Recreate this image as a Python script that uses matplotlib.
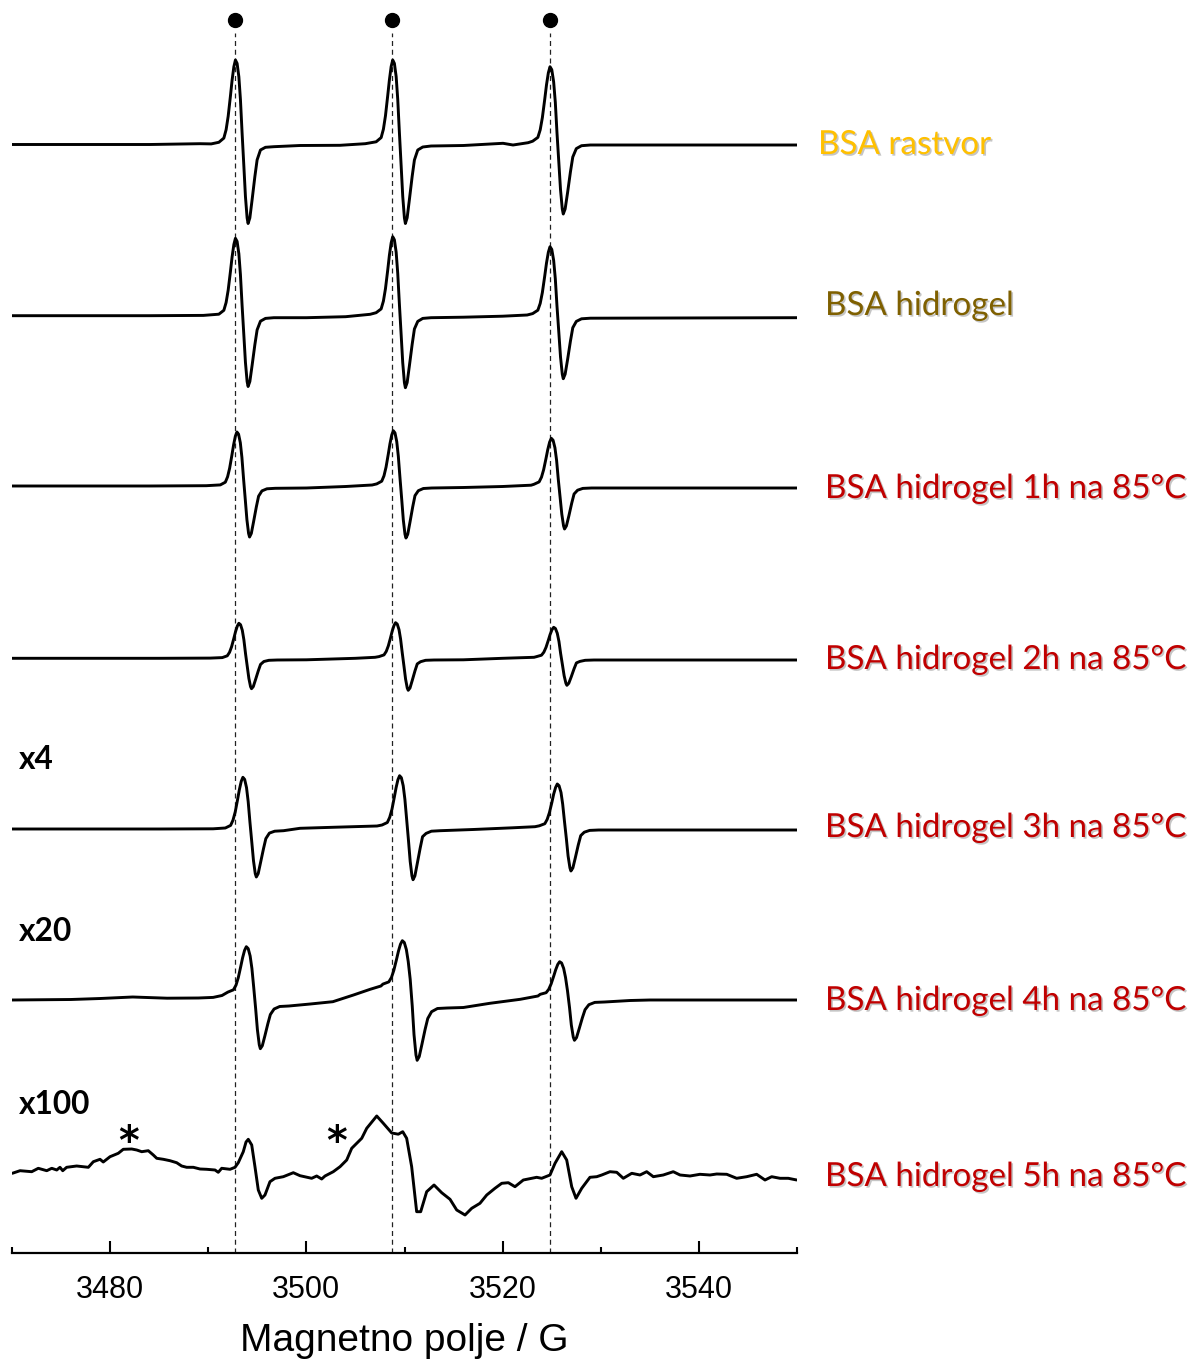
import matplotlib
matplotlib.use("Agg")
import matplotlib.pyplot as plt
import matplotlib.patheffects as pe
from matplotlib.ticker import FixedLocator

# ---------------- data (field in G, intensity in arbitrary units) ----------------
trace_rastvor = [
    (3470.00, 0.0), (3484.06, 0.0), (3489.16, 0.8), (3490.30, 0.6),
    (3491.08, 2.2), (3491.59, 6.4), (3491.82, 14.8), (3492.03, 28.2), (3492.26, 48.4), (3492.43, 64.3),
    (3492.61, 77.8), (3492.77, 84.5), (3492.94, 81.1), (3493.12, 67.7), (3493.28, 45.0), (3493.45, 11.4),
    (3493.63, -21.8), (3493.79, -52.0), (3493.96, -73.4), (3494.06, -79.0), (3494.24, -73.4), (3494.47, -55.2),
    (3494.75, -32.1), (3494.98, -15.4), (3495.32, -5.5), (3495.83, -2.8), (3496.68, -2.2),
    (3499.35, -1.0), (3503.43, -0.8), (3506.00, 0.8),
    (3507.11, 2.7), (3507.62, 6.9), (3507.85, 15.3), (3508.06, 28.7), (3508.29, 48.9), (3508.46, 64.5),
    (3508.64, 78.0), (3508.80, 84.5), (3508.97, 81.1), (3509.15, 67.9), (3509.31, 45.3), (3509.48, 11.9),
    (3509.66, -21.5), (3509.82, -51.8), (3509.99, -73.3), (3510.09, -79.0), (3510.27, -73.3), (3510.50, -55.0),
    (3510.78, -32.0), (3511.01, -15.5), (3511.35, -5.5), (3511.86, -2.5), (3512.71, -1.5),
    (3516.00, -1.0), (3520.04, 1.2), (3521.06, -0.5), (3522.60, 1.8),
    (3523.06, 3.3), (3523.59, 7.1), (3523.83, 14.7), (3524.05, 26.9), (3524.29, 45.1), (3524.47, 59.6),
    (3524.66, 71.7), (3524.83, 77.8), (3525.01, 74.8), (3525.20, 62.6), (3525.37, 42.1), (3525.54, 11.7),
    (3525.73, -18.2), (3525.90, -45.3), (3526.08, -64.5), (3526.18, -69.5), (3526.37, -64.5), (3526.62, -48.1),
    (3526.91, -27.4), (3527.15, -12.5), (3527.51, -4.1), (3528.04, -1.2), (3528.94, -0.5),
    (3535.00, -0.5), (3550.00, -0.5),
]
trace_hidrogel = [
    (3470.0, 0.0), (3484.0, 0.0), (3489.5, 0.3),
    (3491.08, 1.5), (3491.59, 5.4), (3491.82, 13.2), (3492.03, 25.5), (3492.26, 44.1), (3492.43, 58.8),
    (3492.61, 71.2), (3492.77, 77.4), (3492.94, 74.3), (3493.12, 61.9), (3493.28, 41.0), (3493.45, 10.1),
    (3493.63, -19.8), (3493.79, -46.7), (3493.96, -65.8), (3494.06, -70.8), (3494.24, -65.8), (3494.47, -49.6),
    (3494.75, -29.0), (3494.98, -14.2), (3495.32, -5.5), (3495.83, -2.7), (3496.68, -2.0),
    (3500.0, -2.0), (3504.0, -1.0), (3506.5, 1.4),
    (3507.11, 3.0), (3507.62, 6.8), (3507.85, 14.6), (3508.06, 27.0), (3508.29, 45.6), (3508.46, 60.4),
    (3508.64, 72.8), (3508.80, 79.0), (3508.97, 75.9), (3509.15, 63.5), (3509.31, 42.5), (3509.48, 11.5),
    (3509.66, -19.2), (3509.82, -47.0), (3509.99, -66.9), (3510.09, -72.0), (3510.27, -66.9), (3510.50, -50.0),
    (3510.78, -28.7), (3511.01, -13.3), (3511.35, -5.7), (3511.86, -2.7), (3512.71, -2.0),
    (3516.0, -1.5), (3520.0, -0.5), (3522.5, 0.7),
    (3523.06, 2.1), (3523.59, 5.5), (3523.83, 12.3), (3524.05, 23.2), (3524.29, 39.6), (3524.47, 52.6),
    (3524.66, 63.5), (3524.83, 69.0), (3525.01, 66.3), (3525.20, 55.3), (3525.37, 36.9), (3525.54, 9.6),
    (3525.73, -17.1), (3525.90, -41.3), (3526.08, -58.5), (3526.18, -63.0), (3526.37, -58.5), (3526.62, -43.9),
    (3526.91, -25.4), (3527.15, -12.0), (3527.51, -5.7), (3528.04, -3.1), (3528.94, -2.5),
    (3550.0, -2.0),
]
trace_1h = [
    (3470.0, 0.0), (3484.0, 0.0), (3489.8, 0.3),
    (3491.23, 1.1), (3491.74, 3.8), (3491.97, 9.2), (3492.18, 17.8), (3492.41, 30.8), (3492.58, 41.0),
    (3492.76, 49.7), (3492.92, 54.0), (3493.09, 51.8), (3493.27, 43.2), (3493.43, 28.6), (3493.60, 7.0),
    (3493.78, -14.3), (3493.94, -33.7), (3494.11, -47.4), (3494.21, -51.0), (3494.39, -47.4), (3494.62, -35.7),
    (3494.90, -20.9), (3495.13, -10.2), (3495.47, -4.9), (3495.98, -2.8), (3496.83, -2.3),
    (3500.0, -2.0), (3504.0, -0.5), (3506.7, 1.0),
    (3507.17, 2.1), (3507.68, 4.8), (3507.91, 10.2), (3508.12, 18.9), (3508.35, 32.0), (3508.52, 42.3),
    (3508.70, 51.0), (3508.86, 55.3), (3509.03, 53.1), (3509.21, 44.4), (3509.37, 29.8), (3509.54, 8.1),
    (3509.72, -13.8), (3509.88, -34.0), (3510.05, -48.3), (3510.15, -52.0), (3510.33, -48.3), (3510.56, -36.1),
    (3510.84, -20.7), (3511.07, -9.6), (3511.41, -4.7), (3511.92, -2.5), (3512.77, -2.0),
    (3516.0, -1.5), (3520.0, -0.5), (3522.9, 0.8),
    (3523.19, 1.7), (3523.72, 4.1), (3523.96, 8.8), (3524.18, 16.3), (3524.42, 27.5), (3524.60, 36.4),
    (3524.79, 43.9), (3524.96, 47.7), (3525.14, 45.8), (3525.33, 38.3), (3525.50, 25.7), (3525.67, 6.9),
    (3525.86, -11.5), (3526.03, -28.1), (3526.21, -39.9), (3526.31, -43.0), (3526.50, -39.9), (3526.75, -29.9),
    (3527.04, -17.2), (3527.28, -8.0), (3527.64, -4.2), (3528.17, -2.4), (3529.07, -2.0),
    (3550.0, -2.0),
]
trace_2h = [
    (3470.0, 0.0), (3485.0, 0.0), (3490.2, 0.2),
    (3491.43, 0.7), (3491.94, 2.5), (3492.17, 6.0), (3492.38, 11.6), (3492.61, 20.0), (3492.78, 26.6),
    (3492.96, 32.2), (3493.12, 35.0), (3493.29, 33.6), (3493.47, 28.0), (3493.63, 18.6), (3493.80, 4.6),
    (3493.98, -8.5), (3494.14, -20.1), (3494.31, -28.3), (3494.41, -30.4), (3494.59, -28.3), (3494.82, -21.3),
    (3495.10, -12.5), (3495.33, -6.1), (3495.67, -3.2), (3496.18, -2.0), (3497.03, -1.7),
    (3500.0, -1.5), (3505.0, 0.0), (3507.0, 1.0),
    (3507.40, 1.7), (3507.91, 3.4), (3508.14, 6.9), (3508.35, 12.4), (3508.58, 20.7), (3508.75, 27.3),
    (3508.93, 32.8), (3509.09, 35.6), (3509.26, 34.2), (3509.44, 28.7), (3509.60, 19.3), (3509.77, 5.5),
    (3509.95, -8.2), (3510.11, -20.8), (3510.28, -29.7), (3510.38, -32.0), (3510.56, -29.7), (3510.79, -22.1),
    (3511.07, -12.5), (3511.30, -5.6), (3511.64, -3.4), (3512.15, -2.0), (3513.00, -1.7),
    (3516.0, -1.5), (3520.0, 0.0), (3523.2, 1.0),
    (3523.43, 1.6), (3523.96, 3.1), (3524.20, 6.1), (3524.42, 10.9), (3524.66, 18.1), (3524.84, 23.8),
    (3525.03, 28.6), (3525.20, 31.0), (3525.38, 29.8), (3525.57, 25.0), (3525.74, 16.9), (3525.91, 4.9),
    (3526.10, -6.8), (3526.27, -17.5), (3526.45, -25.0), (3526.55, -27.0), (3526.74, -25.0), (3526.99, -18.6),
    (3527.28, -10.5), (3527.52, -4.6), (3527.88, -3.1), (3528.41, -2.0), (3529.31, -1.7),
    (3550.0, -1.7),
]
trace_3h = [
    (3470.0, 0.0), (3485.0, 0.0), (3490.5, 0.2),
    (3491.74, 1.0), (3492.28, 3.6), (3492.52, 8.8), (3492.75, 17.1), (3492.99, 29.5), (3493.17, 39.3),
    (3493.36, 47.6), (3493.53, 51.7), (3493.71, 49.6), (3493.90, 41.4), (3494.07, 27.4), (3494.25, 6.7),
    (3494.44, -13.4), (3494.61, -31.7), (3494.79, -44.6), (3494.90, -48.0), (3495.09, -44.6), (3495.33, -33.6),
    (3495.63, -19.7), (3495.87, -9.6), (3496.23, -4.1), (3496.77, -2.2), (3497.67, -1.7),
    (3499.35, 0.7), (3503.0, 1.8), (3507.2, 3.0),
    (3507.71, 4.0), (3508.25, 6.5), (3508.49, 11.6), (3508.72, 19.6), (3508.96, 31.7), (3509.14, 41.2),
    (3509.33, 49.3), (3509.50, 53.3), (3509.68, 51.3), (3509.87, 43.2), (3510.04, 29.7), (3510.22, 9.5),
    (3510.41, -12.0), (3510.58, -32.4), (3510.76, -46.9), (3510.87, -50.7), (3511.06, -46.9), (3511.30, -34.6),
    (3511.60, -19.0), (3511.84, -7.7), (3512.20, -4.4), (3512.74, -2.2), (3513.64, -1.7),
    (3517.0, -0.5), (3521.0, 1.2), (3523.3, 2.3),
    (3523.74, 3.2), (3524.30, 5.3), (3524.54, 9.6), (3524.77, 16.4), (3525.02, 26.6), (3525.20, 34.8),
    (3525.40, 41.6), (3525.57, 45.0), (3525.75, 43.3), (3525.95, 36.5), (3526.12, 24.9), (3526.30, 7.9),
    (3526.50, -10.1), (3526.67, -26.9), (3526.86, -38.9), (3526.96, -42.0), (3527.16, -38.9), (3527.41, -28.7),
    (3527.71, -15.9), (3527.96, -6.6), (3528.32, -3.2), (3528.87, -1.4), (3529.79, -1.0),
    (3550.0, -1.0),
]
trace_4h = [
    (3470.0, 0.0), (3476.0, 0.5), (3479.0, 1.5), (3482.3, 3.0), (3485.8, 1.8), (3489.0, 2.0), (3490.5, 2.6),
    (3491.4, 4.5),
    (3492.00, 7.9), (3492.57, 10.2), (3492.83, 14.9), (3493.06, 22.3), (3493.31, 33.4), (3493.50, 42.2),
    (3493.70, 49.6), (3493.88, 53.3), (3494.07, 51.4), (3494.27, 44.0), (3494.45, 31.5), (3494.63, 13.0),
    (3494.83, -8.6), (3495.01, -29.8), (3495.20, -44.8), (3495.31, -48.7), (3495.51, -45.7), (3495.77, -35.9),
    (3496.08, -23.5), (3496.33, -14.5), (3496.71, -9.0), (3497.28, -6.5), (3498.22, -6.0),
    (3500.4, -4.0), (3502.7, -1.7), (3504.8, 5.0), (3506.5, 10.7), (3507.6, 14.0),
    (3507.80, 15.9), (3508.40, 18.1), (3508.67, 22.5), (3508.91, 29.6), (3509.18, 40.3), (3509.38, 48.7),
    (3509.59, 55.8), (3509.78, 59.3), (3509.98, 57.5), (3510.19, 50.4), (3510.38, 38.5), (3510.58, 20.8),
    (3510.79, -6.1), (3510.97, -34.7), (3511.17, -55.0), (3511.29, -60.3), (3511.50, -56.6), (3511.77, -44.6),
    (3512.10, -29.4), (3512.37, -18.5), (3512.76, -11.7), (3513.36, -8.5), (3514.35, -8.0),
    (3516.0, -7.5), (3518.7, -3.3), (3521.8, 0.7), (3523.6, 4.0),
    (3523.83, 5.7), (3524.43, 7.3), (3524.70, 10.7), (3524.94, 16.0), (3525.21, 24.0), (3525.41, 30.3),
    (3525.62, 35.6), (3525.81, 38.3), (3526.01, 37.0), (3526.22, 31.6), (3526.41, 22.6), (3526.61, 9.3),
    (3526.82, -7.7), (3527.00, -24.9), (3527.20, -37.1), (3527.32, -40.3), (3527.53, -37.6), (3527.80, -28.8),
    (3528.13, -17.7), (3528.40, -9.7), (3528.79, -4.7), (3529.39, -2.4), (3530.38, -2.0),
    (3533.0, -0.5), (3535.0, 0.0), (3550.0, 0.0),
]
trace_5h = [
    (3470.03, 0), (3470.82, 2.6), (3472.01, 1.6), (3472.68, 5.0), (3473.54, 2.6), (3474.05, 5.0), (3474.56, 3.3),
    (3474.89, 6.0), (3475.17, 2.6), (3475.57, 6.0), (3476.59, 7.3), (3477.78, 6.0), (3478.29, 11.6),
    (3478.97, 14.0), (3479.30, 11.3), (3479.99, 16.6), (3480.83, 20.0), (3481.34, 24.0), (3482.20, 24.3),
    (3482.71, 23.3), (3483.22, 21.6), (3483.89, 22.6), (3484.40, 18.3), (3484.75, 15.0), (3485.42, 14.0),
    (3486.10, 12.6), (3486.78, 10.6), (3487.29, 7.3), (3487.80, 6.0), (3488.48, 6.0), (3489.16, 4.3),
    (3489.84, 4.0), (3490.69, 3.3), (3491.02, 1.0), (3491.37, 5.0), (3492.22, 4.0), (3492.73, 6.0),
    (3493.06, 10.6), (3493.57, 21.6), (3493.85, 31.3), (3494.08, 34.0), (3494.43, 28.3), (3494.76, 6.6),
    (3495.10, -16.7), (3495.45, -25.0), (3495.78, -21.7), (3496.29, -8.4), (3496.80, -5.0), (3497.65, -3.4),
    (3498.67, 0.6), (3499.35, -2.4), (3500.54, -5.0), (3501.05, -2.7), (3501.56, -5.7), (3501.90, -2.7),
    (3502.74, 1.6), (3503.43, 6.6), (3504.11, 13.3), (3504.62, 25.0), (3505.64, 35.0), (3506.15, 45.0),
    (3507.17, 57.3), (3507.84, 50.0), (3508.70, 40.3), (3509.37, 39.1), (3509.82, 41.6), (3510.22, 35.0),
    (3510.73, 6.6), (3511.24, -38.4), (3511.65, -38.4), (3512.26, -18.4), (3513.01, -11.7), (3513.79, -19.4),
    (3514.64, -26.0), (3515.32, -36.7), (3516.17, -41.7), (3516.85, -35.0), (3517.69, -30.0), (3518.38, -21.7),
    (3519.22, -15.0), (3519.91, -10.0), (3520.58, -9.4), (3521.26, -13.4), (3522.11, -6.7), (3523.47, -4.0),
    (3523.98, -5.0), (3524.83, -1.7), (3525.34, 10.0), (3526.02, 21.6), (3526.53, 13.3), (3527.04, -13.4),
    (3527.48, -25.0), (3528.06, -15.0), (3528.90, -4.0), (3529.59, -3.4), (3530.10, -1.7), (3530.94, 1.6),
    (3531.63, 1.0), (3532.30, -5.0), (3533.16, 0.0), (3534.00, -1.7), (3534.68, 1.6), (3535.36, -3.4),
    (3536.37, -1.7), (3537.39, 1.6), (3538.08, -1.7), (3539.10, -2.7), (3540.11, -1.0), (3541.13, -1.7),
    (3541.82, -0.7), (3542.84, -1.0), (3543.85, -5.0), (3544.87, -3.4), (3545.89, -1.0), (3546.74, -6.7),
    (3547.42, -3.4), (3548.27, -5.0), (3549.11, -5.0), (3549.97, -6.7),
]

traces = [trace_rastvor, trace_hidrogel, trace_1h, trace_2h, trace_3h, trace_4h, trace_5h]
labels = ["BSA rastvor", "BSA hidrogel", "BSA hidrogel 1h na 85°C", "BSA hidrogel 2h na 85°C",
          "BSA hidrogel 3h na 85°C", "BSA hidrogel 4h na 85°C", "BSA hidrogel 5h na 85°C"]
label_colors = ["#FFC000", "#7F6000", "#C00000", "#C00000", "#C00000", "#C00000", "#C00000"]
gain_labels = ["x4", "x20", "x100"]
line_positions = [3492.7, 3508.7, 3524.8]
major_ticks = [3480, 3500, 3520, 3540]
minor_ticks = [3470, 3490, 3510, 3530, 3550]

# ---------------- layout ----------------
W, H = 1192, 1367
AX_BOTTOM_PX = 1253
fig = plt.figure(figsize=(W / 100, H / 100), dpi=100)
ax = fig.add_axes([12 / W, (H - AX_BOTTOM_PX) / H, 785 / W, AX_BOTTOM_PX / H])
ax.set_xlim(3470, 3550)
ax.set_ylim(0, AX_BOTTOM_PX)

baseline_px = [144.5, 315.7, 486.0, 658.3, 829.0, 1000.0, 1173.3]
offsets = [AX_BOTTOM_PX - b for b in baseline_px]

for tr, off in zip(traces, offsets):
    xs = [p[0] for p in tr]
    ys = [p[1] + off for p in tr]
    ax.plot(xs, ys, color="black", lw=2.1, solid_joinstyle="round", solid_capstyle="round", zorder=3)

ax.vlines(line_positions, 0, AX_BOTTOM_PX - 33, colors="#222222", linestyles=(0, (4, 3)), lw=0.9, zorder=2)
ax.plot(line_positions, [AX_BOTTOM_PX - 20] * 3, "o", color="black", ms=10, zorder=4, clip_on=False)

for s in ["left", "right", "top"]:
    ax.spines[s].set_visible(False)
ax.spines["bottom"].set_linewidth(1.6)
ax.set_yticks([])
ax.xaxis.set_major_locator(FixedLocator(major_ticks))
ax.xaxis.set_minor_locator(FixedLocator(minor_ticks))
ax.tick_params(axis="x", which="major", direction="in", length=9, width=1.5, pad=16,
               labelsize=22, labelfontfamily="Liberation Sans")
ax.tick_params(axis="x", which="minor", direction="in", length=4.5, width=1.5)
ax.set_xlabel("Magnetno polje / G", fontsize=28, family="Liberation Sans", labelpad=13)
ax.patch.set_alpha(0)

renderer = fig.canvas.get_renderer()


def ftext(x_px, y_px, s, **kw):
    return fig.text(x_px / W, 1 - y_px / H, s, **kw)


def fit_size(s, target_w, family, weight="normal"):
    t = fig.text(0, 0, s, fontsize=20, family=family, weight=weight)
    w = t.get_window_extent(renderer).width
    t.remove()
    return 20 * target_w / w


lab_fs = fit_size("BSA hidrogel 1h na 85°C", 362, "Lato")
shadow = [pe.withSimplePatchShadow(offset=(1.2, -1.2), shadow_rgbFace="#808080", alpha=0.45)]
label_x = [818, 825, 825, 825, 825, 825, 825]
label_base = [154, 315, 498, 669, 837, 1010, 1186]
for s, c, x, yb in zip(labels, label_colors, label_x, label_base):
    ftext(x, yb, s, fontsize=lab_fs, family="Lato", color=c, va="baseline", ha="left",
          path_effects=shadow)

gain_fs = fit_size("x100", 72, "Lato", "bold")
for s, yb in zip(gain_labels, [769, 941, 1114]):
    ftext(19, yb, s, fontsize=gain_fs, family="Lato", weight="bold", va="baseline", ha="left")

for x in [129, 337]:
    ftext(x, 1154, "*", fontsize=gain_fs * 1.25, family="DejaVu Sans", weight="bold",
          va="baseline", ha="center")

fig.savefig("out.png", dpi=100)
